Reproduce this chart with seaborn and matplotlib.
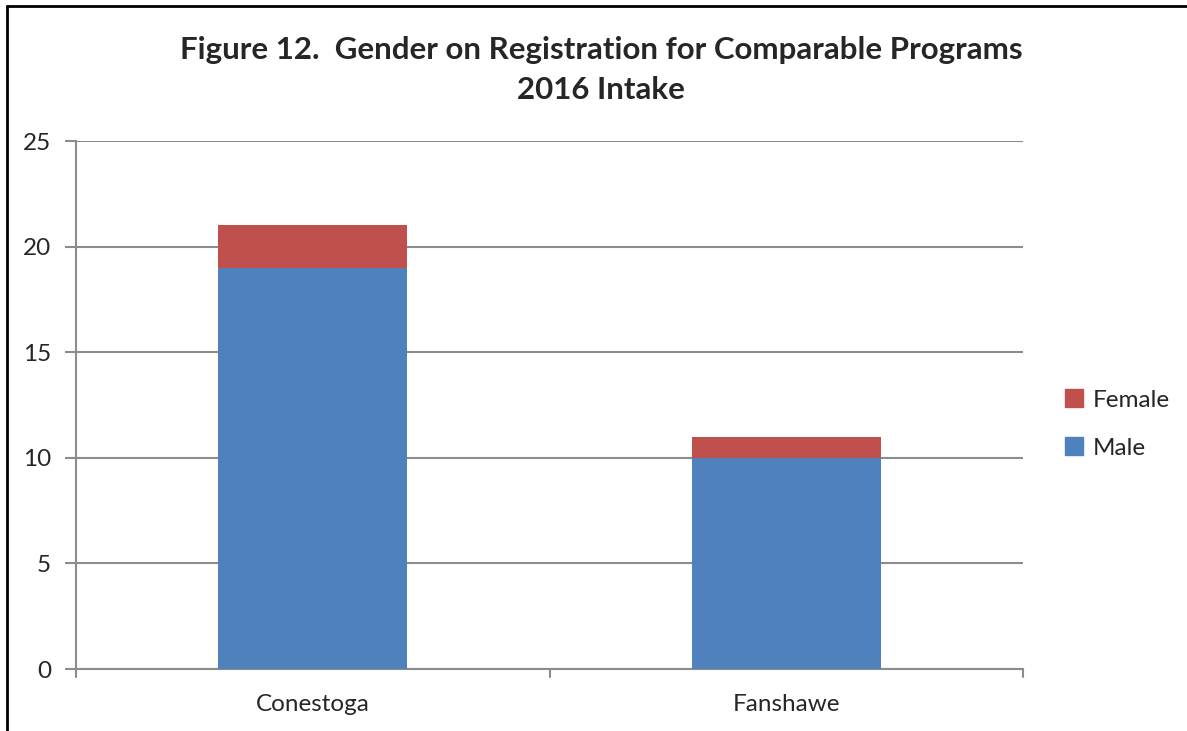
import matplotlib
matplotlib.use("Agg")
import matplotlib.pyplot as plt
import seaborn as sns
import pandas as pd
from matplotlib.patches import Patch

colleges = ["Conestoga", "Fanshawe"]
male = [19, 10]
female = [2, 1]
y_ticks = [0, 5, 10, 15, 20, 25]

MALE_COLOR = "#4F81BD"
FEMALE_COLOR = "#C0504D"

sns.set_style("white")
plt.rcParams["font.family"] = ["Lato", "DejaVu Sans"]

df = pd.DataFrame({"College": colleges, "Male": male, "Female": female})
df["Total"] = df["Male"] + df["Female"]

fig = plt.figure(figsize=(11.87, 7.31), dpi=100)
ax = fig.add_axes([76 / 1187, 1 - 669 / 731, (1023 - 76) / 1187, (669 - 141) / 731])

# stacked: total in red first, male drawn on top
sns.barplot(data=df, x="College", y="Total", color=FEMALE_COLOR, width=0.4,
            saturation=1, linewidth=0, ax=ax, zorder=3)
sns.barplot(data=df, x="College", y="Male", color=MALE_COLOR, width=0.4,
            saturation=1, linewidth=0, ax=ax, zorder=3)

ax.set_xlim(-0.5, 1.5)
ax.set_ylim(0, 25)
ax.set_yticks(y_ticks)
ax.set_yticklabels([str(v) for v in y_ticks], fontsize=17.5)
ax.set_xlabel("")
ax.set_ylabel("")
ax.tick_params(axis="x", length=0, pad=18, labelsize=17.5)
ax.tick_params(axis="y", length=8, width=1.5, color="#8c8c8c", direction="out",
               left=True, pad=10)
ax.yaxis.grid(True, color="#8c8c8c", linewidth=1.5, zorder=0)
ax.set_axisbelow(True)

for side in ["top", "right"]:
    ax.spines[side].set_visible(False)
for side in ["left", "bottom"]:
    ax.spines[side].set_color("#8c8c8c")
    ax.spines[side].set_linewidth(1.5)

# category boundary ticks on the x axis
for xb in [-0.5, 0.5, 1.5]:
    ax.plot([xb, xb], [0, -0.4], color="#8c8c8c", lw=1.5, clip_on=False)

fig.text(601 / 1187, 1 - 50 / 731, "Figure 12.  Gender on Registration for Comparable Programs",
         ha="center", va="center", fontsize=22.5, fontweight="bold")
fig.text(601 / 1187, 1 - 90 / 731, "2016 Intake",
         ha="center", va="center", fontsize=22.5, fontweight="bold")

handles = [Patch(color=FEMALE_COLOR, label="Female"),
           Patch(color=MALE_COLOR, label="Male")]
fig.legend(handles=handles, loc="center left", bbox_to_anchor=(1043 / 1187, 1 - 424 / 731),
           frameon=False, fontsize=17.5, handlelength=0.75, handleheight=0.75,
           labelspacing=1.1, handletextpad=0.4)

# frame lines on left and top of the figure
fig.add_artist(plt.Line2D([7 / 1187, 7 / 1187], [0, 1 - 6 / 731], color="black",
                          lw=2, transform=fig.transFigure))
fig.add_artist(plt.Line2D([7 / 1187, 1], [1 - 6 / 731, 1 - 6 / 731], color="black",
                          lw=2, transform=fig.transFigure))

fig.savefig("out.png", dpi=100)
